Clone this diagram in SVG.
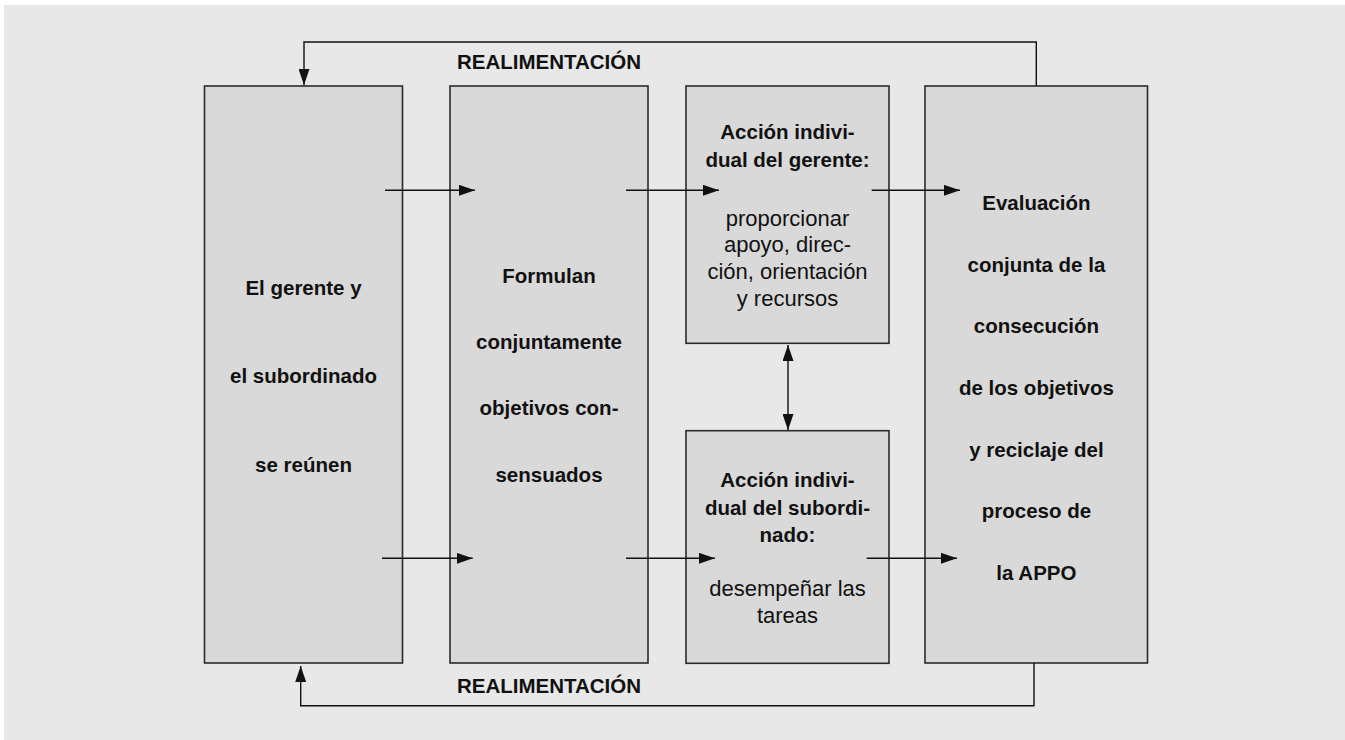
<svg xmlns="http://www.w3.org/2000/svg" width="1345" height="740" viewBox="0 0 1345 740">
<style>
.box{fill:#d9d9d9;stroke:#2a2a2a;stroke-width:1.6}
.ln{fill:none;stroke:#111;stroke-width:1.4}
.b{font-family:"Liberation Sans",Arial,sans-serif;font-weight:bold;font-size:20.5px;fill:#111;text-anchor:middle}
.r{font-family:"Liberation Sans",Arial,sans-serif;font-size:22px;fill:#111;text-anchor:middle}
</style>
<defs>
<marker id="ah" markerUnits="userSpaceOnUse" markerWidth="16" markerHeight="11" refX="16" refY="5.5" orient="auto-start-reverse">
<path d="M0,0 L16,5.5 L0,11 z" fill="#111"/>
</marker>
</defs>
<rect x="4" y="5" width="1341" height="735" fill="#e8e8e8"/>
<g id="n1"><rect class="box" x="204.5" y="86" width="198" height="577"/>
<text class="b" x="303.5" y="294.7">El gerente y</text>
<text class="b" x="303.5" y="383.3">el subordinado</text>
<text class="b" x="303.5" y="472">se reúnen</text></g>
<g id="n2"><rect class="box" x="450" y="86" width="198" height="577"/>
<text class="b" x="549" y="282.7">Formulan</text>
<text class="b" x="549" y="349">conjuntamente</text>
<text class="b" x="549" y="415.3">objetivos con-</text>
<text class="b" x="549" y="481.7">sensuados</text></g>
<g id="n3"><rect class="box" x="686" y="86" width="203" height="257.3"/>
<text class="b" x="787.5" y="139.3">Acción indivi-</text>
<text class="b" x="787.5" y="167.3">dual del gerente:</text>
<text class="r" x="787.5" y="225.7">proporcionar</text>
<text class="r" x="787.5" y="252.3">apoyo, direc-</text>
<text class="r" x="787.5" y="279">ción, orientación</text>
<text class="r" x="787.5" y="305.5">y recursos</text></g>
<g id="n4"><rect class="box" x="686" y="430.7" width="203" height="232.6"/>
<text class="b" x="787.5" y="486.7">Acción indivi-</text>
<text class="b" x="787.5" y="514.7">dual del subordi-</text>
<text class="b" x="787.5" y="542">nado:</text>
<text class="r" x="787.5" y="596">desempeñar las</text>
<text class="r" x="787.5" y="623.3">tareas</text></g>
<g id="n5"><rect class="box" x="925" y="86" width="222.5" height="577"/>
<text class="b" x="1036.4" y="210">Evaluación</text>
<text class="b" x="1036.4" y="271.7">conjunta de la</text>
<text class="b" x="1036.4" y="333.3">consecución</text>
<text class="b" x="1036.4" y="395">de los objetivos</text>
<text class="b" x="1036.4" y="456.7">y reciclaje del</text>
<text class="b" x="1036.4" y="518.3">proceso de</text>
<text class="b" x="1036.4" y="580">la APPO</text></g>
<g id="connectors">
<line class="ln" x1="385" y1="190.3" x2="475" y2="190.3" marker-end="url(#ah)"/>
<line class="ln" x1="382" y1="558.3" x2="472.7" y2="558.3" marker-end="url(#ah)"/>
<line class="ln" x1="626" y1="190.3" x2="719" y2="190.3" marker-end="url(#ah)"/>
<line class="ln" x1="626" y1="558.3" x2="715" y2="558.3" marker-end="url(#ah)"/>
<line class="ln" x1="871.7" y1="190.3" x2="960" y2="190.3" marker-end="url(#ah)"/>
<line class="ln" x1="866.7" y1="558.3" x2="957" y2="558.3" marker-end="url(#ah)"/>
<line class="ln" x1="788" y1="345" x2="788" y2="430" marker-start="url(#ah)" marker-end="url(#ah)"/>
<polyline class="ln" points="1036.3,86 1036.3,42 304,42 304,85" marker-end="url(#ah)"/>
<polyline class="ln" points="1034,663 1034,705.7 300.7,705.7 300.7,666" marker-end="url(#ah)"/>
<text class="b" x="549" y="69">REALIMENTACIÓN</text>
<text class="b" x="549" y="692.7">REALIMENTACIÓN</text>
</g>
</svg>
